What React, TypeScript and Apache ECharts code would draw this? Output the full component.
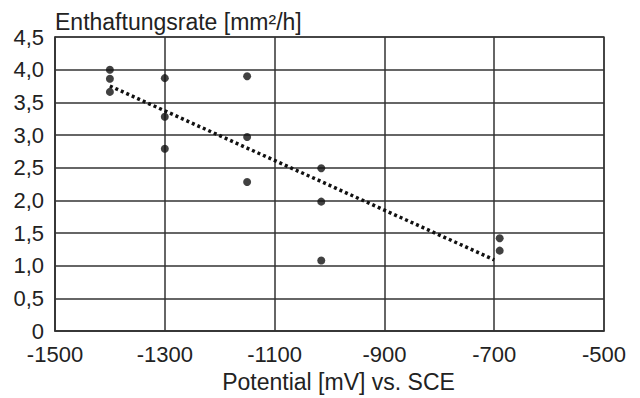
import React, { useEffect, useRef } from "react";
import * as echarts from "echarts";

const potentials = [-1400, -1400, -1400, -1300, -1300, -1300, -1150, -1150, -1150, -1015, -1015, -1015, -690, -690];
const rates = [4.0, 3.86, 3.66, 3.87, 3.28, 2.79, 3.9, 2.97, 2.28, 2.49, 1.98, 1.08, 1.42, 1.23];
const trendX = [-1400, -700];
const trendY = [3.75, 1.09];
const yAxisTitle = "Enthaftungsrate [mm²/h]";
const xAxisTitle = "Potential [mV] vs. SCE";

const FONT = "'Liberation Sans', Arial, sans-serif";
const TXT = "#222";

export default function App() {
  const ref = useRef<HTMLDivElement>(null);
  useEffect(() => {
    if (!ref.current) return;
    const chart = echarts.init(ref.current, undefined, { renderer: "svg" });
    chart.setOption({
      animation: false,
      backgroundColor: "#fff",
      grid: {
        left: 55,
        right: 36,
        top: 37,
        bottom: 65,
        show: true,
        borderColor: "#555",
        borderWidth: 1.5,
      },
      xAxis: {
        type: "value",
        min: -1500,
        max: -500,
        interval: 200,
        name: xAxisTitle,
        nameLocation: "middle",
        nameGap: 39,
        nameTextStyle: { fontFamily: FONT, fontSize: 23, color: TXT, padding: [0, 0, 0, 18] },
        axisLine: { show: true, lineStyle: { color: "#333", width: 1.5 } },
        axisTick: { show: false },
        axisLabel: {
          fontFamily: FONT,
          fontSize: 22,
          color: TXT,
          margin: 12,
          formatter: (v: number) => String(v),
        },
        splitLine: { show: true, lineStyle: { color: "#333", width: 1.5 } },
      },
      yAxis: {
        type: "value",
        min: 0,
        max: 4.5,
        interval: 0.5,
        name: yAxisTitle,
        nameLocation: "end",
        nameGap: 4,
        nameTextStyle: { fontFamily: FONT, fontSize: 23, color: TXT, align: "left", verticalAlign: "bottom" },
        axisLine: { show: true, lineStyle: { color: "#333", width: 1.5 } },
        axisTick: { show: false },
        axisLabel: {
          fontFamily: FONT,
          fontSize: 22,
          color: TXT,
          margin: 11,
          formatter: (v: number) => (v === 0 ? "0" : v.toFixed(1).replace(".", ",")),
        },
        splitLine: { show: true, lineStyle: { color: "#333", width: 1.5 } },
      },
      series: [
        {
          type: "line",
          data: trendX.map((x, i) => [x, trendY[i]]),
          showSymbol: false,
          symbol: "none",
          lineStyle: { color: "#111", width: 3.5, type: [3, 3] },
          z: 3,
        },
        {
          type: "scatter",
          data: potentials.map((x, i) => [x, rates[i]]),
          symbol: "circle",
          symbolSize: 8,
          itemStyle: { color: "#111" },
          z: 4,
        },
      ],
    });
    return () => chart.dispose();
  }, []);
  return <div ref={ref} style={{ width: 640, height: 398, position: "absolute", left: 0, top: 0 }} />;
}
